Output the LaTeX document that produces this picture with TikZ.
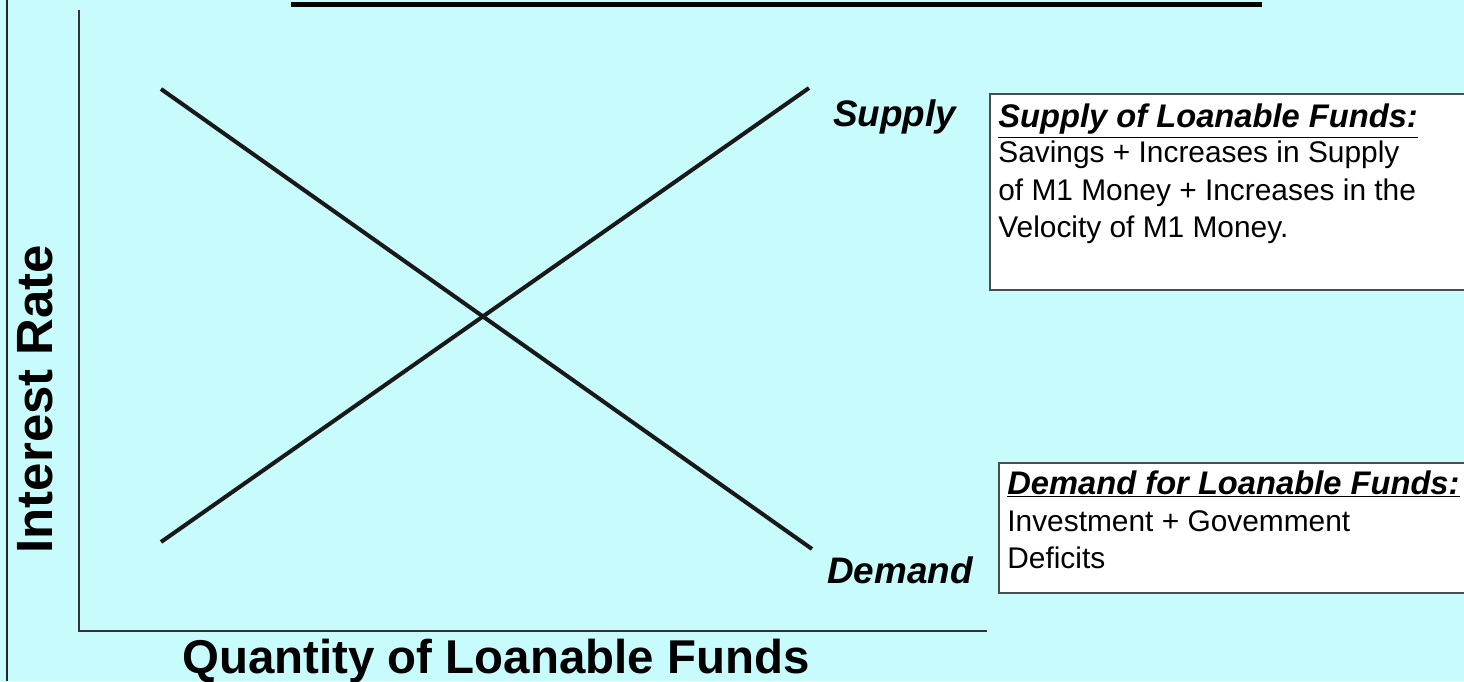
\documentclass[tikz,border=0pt]{standalone}
\usepackage{fontspec}
\setmainfont{Liberation Sans}
\definecolor{paneback}{RGB}{200,252,252}
\definecolor{boxline}{RGB}{70,78,78}
\begin{document}
\begin{tikzpicture}[>=latex,
	curve/.style={line width=2.3pt,color=black!90},
	axis/.style={line width=1.1pt,color=black!80},
	curvelabel/.style={anchor=base,font=\fontsize{21}{25}\selectfont\bfseries\itshape},
	infobox/.style={fill=white,draw=boxline,line width=1.1pt},
	boxhead/.style={anchor=base west,inner sep=0pt,font=\fontsize{18.6}{22}\selectfont\bfseries\itshape},
	boxbody/.style={anchor=north west,inner sep=0pt,align=left,font=\fontsize{17}{21.2}\selectfont}]
\clip (0,0) rectangle (29.28,13.62);
\fill[paneback] (0,0) rectangle (29.28,13.62);
\draw[line width=1.1pt,color=black!85] (0.14,0) -- (0.14,13.62);
\draw[line width=2.85pt] (5.82,13.53) -- (25.24,13.53);

% axes
\coordinate (origin) at (1.58,1.0);
\coordinate (ytop) at (1.58,13.42);
\coordinate (xend) at (19.74,1.0);
\draw[axis] (ytop) -- (origin) -- (xend);
\node[rotate=90,font=\fontsize{29}{34}\selectfont\bfseries] (ylab) at (0.70,5.64) {Interest Rate};
\node[anchor=base,font=\fontsize{27}{32}\selectfont\bfseries] (xlab) at (9.92,0.16) {Quantity of Loanable Funds};

% supply and demand
\coordinate (d1) at (3.22,11.84);
\coordinate (d2) at (16.24,2.64);
\coordinate (s1) at (3.22,2.78);
\coordinate (s2) at (16.18,11.86);
\draw[curve] (d1) -- (d2);
\draw[curve] (s1) -- (s2);
\node[curvelabel] (slab) at (17.89,11.08) {Supply};
\node[curvelabel] (dlab) at (18.00,1.96) {Demand};

% explanation boxes
\draw[infobox] (19.80,7.82) rectangle (29.60,11.74);
\node[boxhead] (shead) at (19.96,11.06) {\underline{Supply of Loanable Funds:}};
\node[boxbody] (sbody) at (19.96,10.80) {Savings + Increases in Supply\\of M1 Money + Increases in the\\Velocity of M1 Money.};
\draw[infobox] (19.98,1.76) rectangle (29.60,4.36);
\node[boxhead] (dhead) at (20.14,3.74) {\underline{Demand for Loanable Funds:}};
\node[boxbody] (dbody) at (20.14,3.41) {Investment + Govemment\\Deficits};
\end{tikzpicture}
\end{document}
